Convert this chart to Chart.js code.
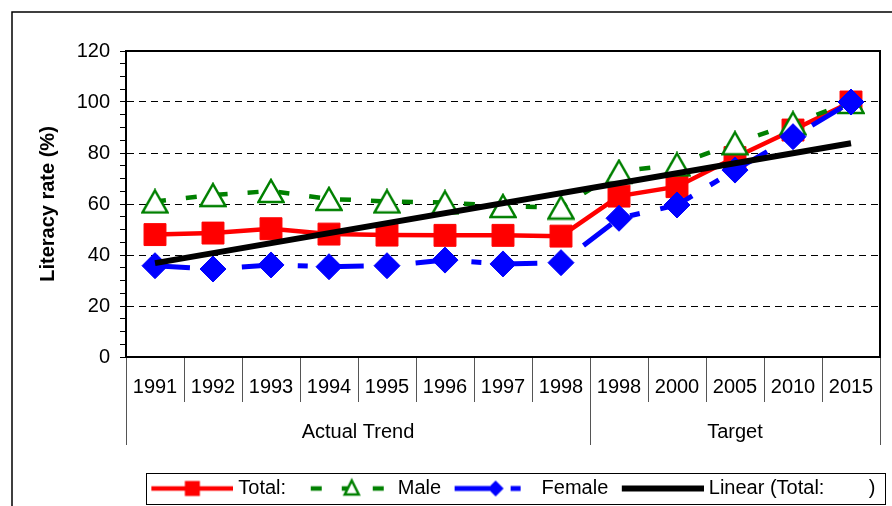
<!DOCTYPE html>
<html>
<head>
<meta charset="utf-8">
<script src="https://cdn.jsdelivr.net/npm/chart.js@4.4.1/dist/chart.umd.min.js"></script>
<style>
html,body{margin:0;padding:0;background:#fff;}
canvas{display:block;}
</style>
</head>
<body>
<canvas id="c" width="892" height="506"></canvas>
<script>
// ---- data ----
const categories = ['1991','1992','1993','1994','1995','1996','1997','1998','1998','2000','2005','2010','2015'];
const groupLabels = ['Actual Trend','Target'];
const groupSizes = [8, 5];
const totalValues  = [48.0, 48.6, 50.3, 48.2, 47.8, 47.7, 47.7, 47.4, 63.1, 66.8, 78.2, 89.0, 100];
const maleValues   = [61.0, 63.5, 65.1, 62.0, 61.0, 60.6, 59.2, 58.6, 72.7, 75.5, 83.8, 91.6, 100];
const femaleValues = [35.8, 34.5, 36.1, 35.4, 35.8, 38.0, 36.5, 37.0, 54.4, 59.6, 73.3, 86.4, 100];
const trendValues  = [36.8, null, null, null, null, null, null, null, null, null, null, null, 83.8];
const seriesNames = ['Total:  ', 'Male', 'Female', 'Linear (Total:        )'];
const yMin = 0, yMax = 120, yMajorStep = 20, yMinorStep = 5;
const yTitle = 'Literacy rate (%)';

// ---- styling helpers ----
const FONT = 'Liberation Sans, Arial, sans-serif';
const RED = '#FF0000', GREEN = '#008000', BLUE = '#0000FF', BLACK = '#000000';

const groupBounds = [0];
groupSizes.forEach(s => groupBounds.push(groupBounds[groupBounds.length - 1] + s));
const groupCenters = groupSizes.map((s, i) => groupBounds[i] + s / 2);

// open triangle marker image (centred on its bounding box, like the source markers)
function makeTriangleMarker() {
  const c = document.createElement('canvas');
  c.width = 28; c.height = 26;
  const g = c.getContext('2d');
  g.fillStyle = '#FFFFFF'; g.strokeStyle = GREEN; g.lineWidth = 2.5; g.lineJoin = 'miter';
  g.beginPath(); g.moveTo(14, 2); g.lineTo(26.5, 24); g.lineTo(1.5, 24); g.closePath();
  g.fill(); g.stroke();
  return c;
}
const triangleMarker = makeTriangleMarker();

// legend icon geometry: box width 86, icon line drawn from box x=9 to x=91
const ICON_BOX = 86, ICON_OFF = 9;
function makeIcon(color, width, dash, marker) {
  const c = document.createElement('canvas');
  c.width = 96; c.height = 26;           // centred on box centre (43): spans box x -5 .. 91
  const g = c.getContext('2d');
  const y = 13, x0 = 14, x1 = 96, cx = 55;
  g.strokeStyle = color; g.lineWidth = width; g.lineCap = 'butt';
  g.setLineDash(dash);
  g.beginPath(); g.moveTo(x0, y); g.lineTo(x1, y); g.stroke();
  g.setLineDash([]);
  if (marker === 'rect') {
    g.fillStyle = color; g.fillRect(cx - 7.5, y - 7.5, 15, 15);
  } else if (marker === 'triangle') {
    g.fillStyle = '#fff'; g.strokeStyle = color; g.lineWidth = 2.5;
    g.beginPath(); g.moveTo(cx, y - 8); g.lineTo(cx + 7, y + 6); g.lineTo(cx - 7, y + 6); g.closePath();
    g.fill(); g.stroke();
  } else if (marker === 'diamond') {
    g.fillStyle = color;
    g.beginPath(); g.moveTo(cx, y - 8); g.lineTo(cx + 8, y); g.lineTo(cx, y + 8); g.lineTo(cx - 8, y); g.closePath();
    g.fill();
  }
  return c;
}

const maleDash = [11, 20];
const femaleDash = [35, 21, 10, 21];

const icons = [
  makeIcon(RED, 4.5, [], 'rect'),
  makeIcon(GREEN, 4.5, maleDash, 'triangle'),
  makeIcon(BLUE, 5, femaleDash, 'diamond'),
  makeIcon(BLACK, 6, [], null)
];

const frames = {
  id: 'frames',
  beforeDatasetsDraw(chart) {
    const {ctx, chartArea: a} = chart;
    ctx.save();
    ctx.strokeStyle = BLACK; ctx.lineWidth = 2;
    ctx.strokeRect(a.left, a.top, a.right - a.left, a.bottom - a.top);
    ctx.restore();
  },
  afterDraw(chart) {
    const ctx = chart.ctx;
    ctx.save();
    ctx.strokeStyle = BLACK; ctx.lineWidth = 1.5;
    ctx.strokeRect(12, 12, 1000, 1000);
    const hb = chart.legend.legendHitBoxes;
    if (hb && hb.length) {
      const first = hb[0], last = hb[hb.length - 1];
      const cy = first.top + 10;
      const l = Math.round(first.left + ICON_OFF - 5) + 0.5;
      const r = Math.round(last.left + last.width + 9) + 0.5;
      ctx.lineWidth = 1;
      ctx.strokeRect(l, Math.round(cy - 16) + 0.5, r - l, 31);
    }
    ctx.restore();
  }
};

new Chart(document.getElementById('c'), {
  type: 'line',
  data: {
    labels: categories,
    datasets: [
      {
        label: seriesNames[0], data: totalValues, xAxisID: 'x', yAxisID: 'y', order: 4,
        borderColor: RED, backgroundColor: RED, borderWidth: 4.5, tension: 0,
        pointStyle: 'rect', pointRadius: 15.5, pointBackgroundColor: RED, pointBorderColor: RED, pointBorderWidth: 1
      },
      {
        label: seriesNames[1], data: maleValues, xAxisID: 'x', yAxisID: 'y', order: 3,
        borderColor: GREEN, backgroundColor: GREEN, borderWidth: 4.5, borderDash: maleDash, tension: 0,
        pointStyle: triangleMarker, pointRadius: 14
      },
      {
        label: seriesNames[2], data: femaleValues, xAxisID: 'x', yAxisID: 'y', order: 2,
        borderColor: BLUE, backgroundColor: BLUE, borderWidth: 5, borderDash: femaleDash, tension: 0,
        pointStyle: 'rectRot', pointRadius: 13, pointBackgroundColor: BLUE, pointBorderColor: BLUE, pointBorderWidth: 1
      },
      {
        label: seriesNames[3], data: trendValues, xAxisID: 'x', yAxisID: 'y', order: 1, spanGaps: true,
        borderColor: BLACK, backgroundColor: BLACK, borderWidth: 6, tension: 0, pointRadius: 0
      }
    ]
  },
  options: {
    responsive: false,
    animation: false,
    events: [],
    layout: { autoPadding: false, padding: { left: 12, right: 12, top: 51, bottom: 0 } },
    scales: {
      x: {
        type: 'category', position: 'bottom', offset: true, weight: 0,
        afterFit(s) { s.height = 45; },
        grid: { offset: true, drawOnChartArea: false, drawTicks: true, tickLength: 45, tickColor: '#555', tickWidth: 1 },
        border: { display: true, color: BLACK, width: 2 },
        ticks: { autoSkip: false, maxRotation: 0, minRotation: 0, padding: -27, color: BLACK, font: { family: FONT, size: 20 } }
      },
      xg: {
        type: 'linear', axis: 'x', position: 'bottom', min: groupBounds[0], max: groupBounds[groupBounds.length - 1], weight: 1,
        afterBuildTicks(s) { s.ticks = groupBounds.concat(groupCenters).sort((a, b) => a - b).map(v => ({ value: v })); },
        afterFit(s) { s.height = 72; },
        grid: {
          drawOnChartArea: false, drawTicks: true, tickLength: 43, tickWidth: 1,
          tickColor: (c) => (c.tick && groupBounds.includes(c.tick.value)) ? '#555' : 'rgba(0,0,0,0)'
        },
        border: { display: false },
        ticks: {
          autoSkip: false, maxRotation: 0, minRotation: 0, padding: -25, color: BLACK, font: { family: FONT, size: 20 },
          callback: (v) => { const i = groupCenters.indexOf(v); return i >= 0 ? groupLabels[i] : ''; }
        }
      },
      y: {
        type: 'linear', min: yMin, max: yMax,
        afterFit(s) { s.width = 114; },
        title: { display: true, text: yTitle, color: BLACK, font: { family: FONT, size: 20, weight: 'bold' }, padding: { top: 24, bottom: 0 } },
        ticks: {
          stepSize: yMinorStep, autoSkip: false, padding: 10, color: BLACK, font: { family: FONT, size: 20 },
          callback: (v) => (v % yMajorStep === 0 ? String(v) : '')
        },
        grid: {
          drawTicks: true, tickLength: 6, tickColor: BLACK, tickWidth: 1, lineWidth: 1,
          color: (c) => (c.tick && c.tick.value % yMajorStep === 0 && c.tick.value > yMin && c.tick.value < yMax) ? BLACK : 'rgba(0,0,0,0)'
        },
        border: { display: true, color: BLACK, width: 2, dash: [7, 5] }
      }
    },
    plugins: {
      tooltip: { enabled: false },
      legend: {
        position: 'bottom', fullSize: false, align: 'end', maxHeight: 32,
        labels: {
          usePointStyle: true, pointStyleWidth: ICON_BOX, padding: 4.5, color: BLACK,
          font: { family: FONT, size: 20 },
          generateLabels: (chart) => chart.data.datasets.map((ds, i) => ({
            text: ds.label, pointStyle: icons[i], datasetIndex: i, hidden: false,
            fillStyle: ds.borderColor, strokeStyle: ds.borderColor, lineWidth: 0, fontColor: BLACK
          }))
        }
      }
    }
  },
  plugins: [frames]
});
</script>
</body>
</html>
